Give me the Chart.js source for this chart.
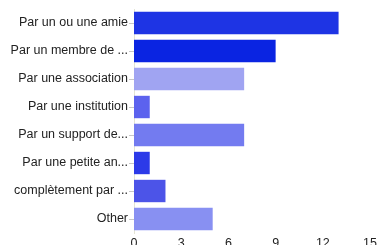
<!DOCTYPE html>
<html>
<head>
<meta charset="utf-8">
<script src="https://cdn.jsdelivr.net/npm/chart.js@4/dist/chart.umd.min.js"></script>
<style>
  html, body { margin: 0; padding: 0; background: #fff; overflow: hidden; }
  #wrap { width: 380px; height: 250px; }
</style>
</head>
<body>
<div id="wrap"><canvas id="bars"></canvas></div>
<script>
const categories = [
  'Par un ou une amie',
  'Par un membre de ...',
  'Par une association',
  'Par une institution',
  'Par un support de...',
  'Par une petite an...',
  'complètement par ...',
  'Other'
];
const counts = [13, 9, 7, 1, 7, 1, 2, 5];
const barColors = ['#1e34e4', '#0a24e2', '#a0a4f2', '#5c62ee', '#737bf0', '#2c3ae8', '#4c54e8', '#8890f2'];
const xTicks = [0, 3, 6, 9, 12, 15];

const ctx = document.getElementById('bars');
new Chart(ctx, {
  type: 'bar',
  data: {
    labels: categories,
    datasets: [{
      data: counts,
      backgroundColor: barColors,
      borderWidth: 0,
      categoryPercentage: 1.0,
      barPercentage: 0.8
    }]
  },
  options: {
    indexAxis: 'y',
    responsive: true,
    maintainAspectRatio: false,
    animation: false,
    layout: { padding: { top: 9, right: 8, left: 0, bottom: 0 } },
    plugins: { legend: { display: false }, tooltip: { enabled: false } },
    scales: {
      x: {
        min: xTicks[0],
        max: xTicks[xTicks.length - 1],
        afterBuildTicks: (axis) => { axis.ticks = xTicks.map(v => ({ value: v })); },
        afterFit: (axis) => { axis.height = 17; },
        grid: { display: false, drawTicks: false },
        border: { display: false },
        ticks: { color: '#222', padding: 3, font: { family: 'Liberation Sans', size: 12.5 } }
      },
      y: {
        afterFit: (axis) => { axis.width = 134; },
        grid: { offset: false, drawOnChartArea: false, tickLength: 5, color: '#c8c8c8' },
        border: { color: '#e4e4d4' },
        ticks: { color: '#222', padding: 1, font: { family: 'Liberation Sans', size: 12.5 } }
      }
    }
  }
});
</script>
</body>
</html>
